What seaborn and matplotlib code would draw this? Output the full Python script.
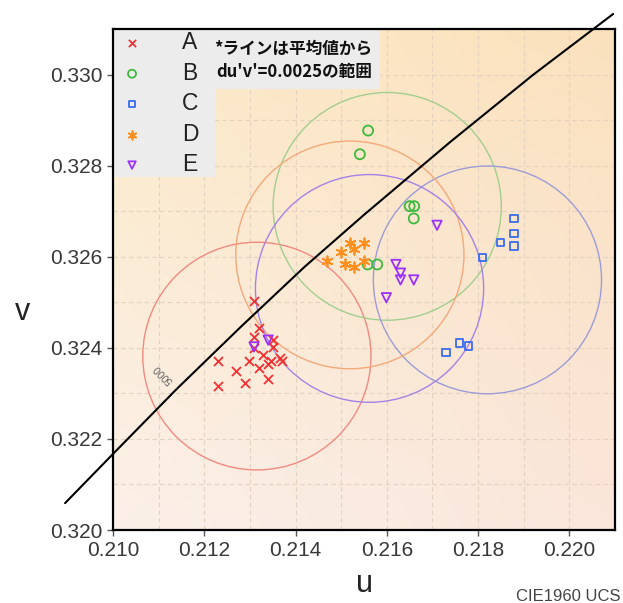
import numpy as np
import pandas as pd
import matplotlib
matplotlib.use("Agg")
import matplotlib.pyplot as plt
import seaborn as sns
from matplotlib.patches import Circle, Rectangle
from matplotlib.colors import to_rgb

# ---------------- data (CIE1960 u, v) ----------------
series = ["A", "B", "C", "D", "E"]

a_u = [0.21309, 0.21320, 0.21309, 0.21350, 0.21350, 0.21308, 0.21328, 0.21299, 0.21230,
       0.21320, 0.21340, 0.21346, 0.21366, 0.21371, 0.21270, 0.21289, 0.21340, 0.21230]
a_v = [0.32503, 0.32444, 0.32424, 0.32417, 0.32401, 0.32400, 0.32384, 0.32370, 0.32370,
       0.32356, 0.32365, 0.32371, 0.32377, 0.32370, 0.32350, 0.32323, 0.32331, 0.32317]

b_u = [0.21559, 0.21541, 0.21650, 0.21660, 0.21659, 0.21558, 0.21579]
b_v = [0.32877, 0.32825, 0.32711, 0.32711, 0.32684, 0.32583, 0.32583]

c_u = [0.21879, 0.21879, 0.21879, 0.21849, 0.21810, 0.21730, 0.21759, 0.21779]
c_v = [0.32684, 0.32651, 0.32624, 0.32631, 0.32598, 0.32390, 0.32411, 0.32404]

d_u = [0.21519, 0.21549, 0.21528, 0.21500, 0.21469, 0.21509, 0.21529, 0.21549]
d_v = [0.32630, 0.32630, 0.32618, 0.32610, 0.32590, 0.32585, 0.32578, 0.32591]

e_u = [0.21710, 0.21620, 0.21630, 0.21630, 0.21659, 0.21599, 0.21309, 0.21340]
e_v = [0.32669, 0.32583, 0.32564, 0.32549, 0.32549, 0.32510, 0.32402, 0.32417]

# black-body locus
locus_u = [0.20895, 0.21000, 0.21140, 0.21280, 0.21420, 0.21550, 0.21739, 0.21920, 0.22096]
locus_v = [0.32059, 0.32167, 0.32310, 0.32446, 0.32578, 0.32692, 0.32852, 0.32999, 0.33133]
cct_label = "5000"
cct_u, cct_v = 0.2114, 0.3231

radius = 0.0025  # du'v'
x_ticks = [0.210, 0.212, 0.214, 0.216, 0.218, 0.220]
y_ticks = [0.320, 0.322, 0.324, 0.326, 0.328, 0.330]
note_text = "*ラインは平均値から\ndu'v'=0.0025の範囲"

# ---------------- styling ----------------
sns.set_theme(style="white")
plt.rcParams['font.family'] = ['Liberation Sans', 'Noto Sans CJK JP', 'DejaVu Sans']

data_u = [a_u, b_u, c_u, d_u, e_u]
data_v = [a_v, b_v, c_v, d_v, e_v]
mark_col = ['#F23232', '#3DBA3D', '#3A6CF0', '#FF9020', '#9B30FF']
ring_col = ['#F08A80', '#A2CE8E', '#9C9CD8', '#F4A97A', '#A582E6']
markers = ['x', 'o', 's', (6, 2, 0), 'v']
sizes = [42, 52, 30, 55, 45]

fig = plt.figure(figsize=(6.23, 6.03), dpi=100)
ax = fig.add_axes([113 / 623, 1 - 530 / 603, 502 / 623, 501 / 603])

# background gradient
tl, tr, bl, br = [np.array(to_rgb(c)) for c in ('#FCEAC8', '#FBE1BD', '#FBF0E9', '#FAE6DB')]
ny, nx = 200, 200
yy = np.linspace(0, 1, ny)[:, None, None]
xx = np.linspace(0, 1, nx)[None, :, None]
img = (1 - yy) * ((1 - xx) * tl + xx * tr) + yy * ((1 - xx) * bl + xx * br)
ax.imshow(img, extent=(0.210, 0.221, 0.320, 0.331), origin='upper', aspect='auto',
          zorder=0, interpolation='bilinear')

ax.set_xlim(0.210, 0.221)
ax.set_ylim(0.320, 0.331)
ax.set_xticks(x_ticks)
ax.set_yticks(y_ticks)
ax.set_xticks(np.arange(0.210, 0.2215, 0.001), minor=True)
ax.set_yticks(np.arange(0.320, 0.3315, 0.001), minor=True)
ax.set_xticklabels([f"{t:.3f}" for t in x_ticks])
ax.set_yticklabels([f"{t:.3f}" for t in y_ticks])
ax.set_axisbelow(True)
ax.grid(which='both', color='#E3D2BF', linestyle=(0, (4, 3)), linewidth=0.8)
ax.tick_params(which='major', direction='out', length=4.3, width=1, color='#555555',
               labelsize=15, labelcolor='#383838', pad=3.5, left=True, bottom=True)
ax.tick_params(which='minor', length=0)
for sp in ax.spines.values():
    sp.set_color('black')
    sp.set_linewidth(1.6)
    sp.set_zorder(6)

# circles of radius du'v' around means
for uu, vv, rc in zip(data_u, data_v, ring_col):
    ax.add_patch(Circle((np.mean(uu), np.mean(vv)), radius, fill=False, ec=rc, lw=1.0, zorder=2))

# locus line
sns.lineplot(x=locus_u, y=locus_v, sort=False, estimator=None, color='black', lw=1.5,
             ax=ax, clip_on=False, zorder=3, legend=False)
ax.annotate(cct_label, xy=(cct_u, cct_v), xytext=(-10, 11), textcoords='offset points',
            rotation=135, ha='center', va='center', fontsize=7.5, color='#666666',
            arrowprops=dict(arrowstyle='-', color='#555555', lw=0.8, shrinkA=0, shrinkB=0),
            zorder=3)

# points
for name, uu, vv, mc, mk, s in zip(series, data_u, data_v, mark_col, markers, sizes):
    df = pd.DataFrame({'u': uu, 'v': vv})
    if mk == 'x' or isinstance(mk, tuple):
        sns.scatterplot(data=df, x='u', y='v', marker=mk, s=s, color=mc, linewidth=1.3,
                        ax=ax, label=name, zorder=4)
    else:
        sns.scatterplot(data=df, x='u', y='v', marker=mk, s=s, color=mc, facecolor='none',
                        edgecolor=mc, linewidth=1.3, ax=ax, label=name, zorder=4)

# gray panels
ax.add_patch(Rectangle((0, 0.7046), 0.203, 0.2954, transform=ax.transAxes,
                       facecolor='#ECECEC', edgecolor='none', zorder=5))
ax.add_patch(Rectangle((0.203, 0.880), 0.329, 0.120, transform=ax.transAxes,
                       facecolor='#ECECEC', edgecolor='none', zorder=5))

leg = ax.legend(loc='upper left', bbox_to_anchor=(0, 1), frameon=False, fontsize=16.5,
                handlelength=1.46, handletextpad=1.45, borderpad=0.1, borderaxespad=0,
                labelspacing=0.325, markerscale=0.8)
leg.set_zorder(7)
for t in leg.get_texts():
    t.set_color('#222222')

ax.text(0.516, 0.938, note_text, transform=ax.transAxes, ha='right', va='center',
        multialignment='right', fontsize=12, fontweight='bold', linespacing=1.35,
        family=['Noto Sans CJK JP', 'DejaVu Sans'], color='#111111', zorder=7)

ax.set_xlabel('u', fontsize=22, color='#222222')
ax.xaxis.set_label_coords(0.5, -0.124)
ax.xaxis.label.set_verticalalignment('baseline')
ax.set_ylabel('v', fontsize=22, color='#222222', rotation=0)
ax.yaxis.set_label_coords(-0.181, 0.419)
ax.yaxis.label.set_verticalalignment('baseline')
ax.yaxis.label.set_horizontalalignment('center')

fig.text(620 / 623, 2 / 603, 'CIE1960 UCS', ha='right', va='baseline', fontsize=12, color='#444444')

fig.savefig('out.png', dpi=100)
